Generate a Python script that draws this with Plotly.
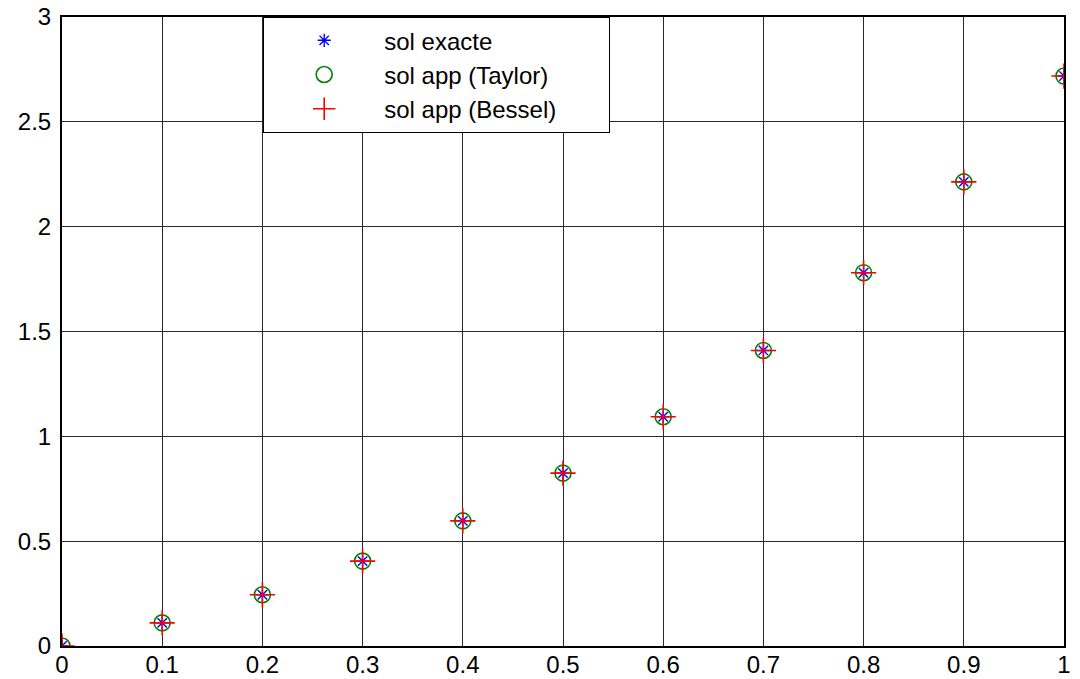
import plotly.graph_objects as go

x_vals = [0, 0.1, 0.2, 0.3, 0.4, 0.5, 0.6, 0.7, 0.8, 0.9, 1.0]
sol_exacte = [0, 0.1105, 0.2443, 0.4050, 0.5967, 0.8244, 1.0933, 1.4096, 1.7804, 2.2136, 2.7183]
sol_taylor = [0, 0.1105, 0.2443, 0.4050, 0.5967, 0.8244, 1.0933, 1.4096, 1.7804, 2.2136, 2.7183]
sol_bessel = [0, 0.1105, 0.2443, 0.4050, 0.5967, 0.8244, 1.0933, 1.4096, 1.7804, 2.2136, 2.7183]

x_ticks = [0, 0.1, 0.2, 0.3, 0.4, 0.5, 0.6, 0.7, 0.8, 0.9, 1]
x_ticklabels = ["0", "0.1", "0.2", "0.3", "0.4", "0.5", "0.6", "0.7", "0.8", "0.9", "1"]
y_ticks = [0, 0.5, 1, 1.5, 2, 2.5, 3]
y_ticklabels = ["0", "0.5", "1", "1.5", "2", "2.5", "3"]

FONT = "Liberation Sans, Arial, sans-serif"
PAD = "\u00a0" * 7

fig = go.Figure()
fig.add_trace(go.Scatter(
    x=x_vals, y=sol_taylor, mode="markers", name="sol app (Taylor)", legendrank=2,
    marker=dict(symbol="circle-open", size=16, color="#008000", line=dict(width=1.6, color="#008000")),
))
fig.add_trace(go.Scatter(
    x=x_vals, y=sol_exacte, mode="markers", name="sol exacte", legendrank=1,
    marker=dict(symbol="asterisk-open", size=11, color="#0000ff", line=dict(width=1.4, color="#0000ff")),
))
fig.add_trace(go.Scatter(
    x=x_vals, y=sol_bessel, mode="markers", name="sol app (Bessel)" + PAD, legendrank=3,
    marker=dict(symbol="cross-thin-open", size=18, color="#ff0000", line=dict(width=1.6, color="#ff0000")),
))

axis_common = dict(
    showgrid=True, gridcolor="#2a2a2a", gridwidth=1.2,
    showline=True, linecolor="black", linewidth=2, mirror=True,
    zeroline=False, ticks="", automargin=False, ticklabeloverflow="allow",
    tickfont=dict(family=FONT, size=24, color="black"),
)

fig.update_xaxes(range=[0, 1], tickvals=x_ticks, ticktext=x_ticklabels, ticklabelstandoff=-4, **axis_common)
fig.update_yaxes(range=[0, 3], tickvals=y_ticks, ticktext=y_ticklabels, ticklabelstandoff=4, **axis_common)

fig.update_layout(
    width=1072, height=671,
    margin=dict(l=54, r=16, t=9, b=33),
    plot_bgcolor="white", paper_bgcolor="white",
    font=dict(family=FONT, size=24, color="black"),
    legend=dict(
        x=0.2006, y=1.0, xanchor="left", yanchor="top",
        bgcolor="white", bordercolor="black", borderwidth=1.2,
        font=dict(family=FONT, size=24),
        traceorder="normal",
        itemwidth=110,
        tracegroupgap=0,
    ),
    showlegend=True,
)

fig.write_html("out.html")
